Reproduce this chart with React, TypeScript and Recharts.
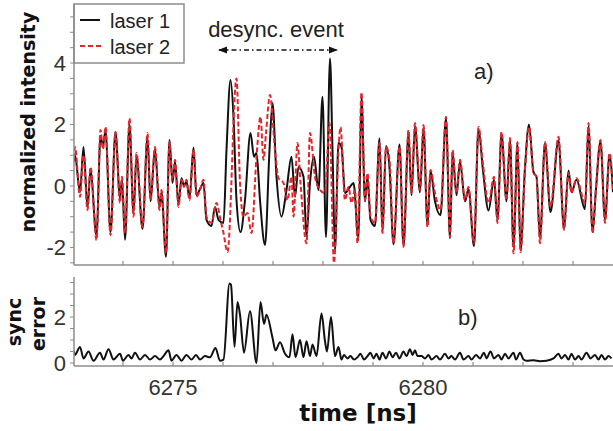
import { LineChart, Line, XAxis, YAxis } from 'recharts';

// laser 2 (red dashed), time in ns / normalized intensity
const laser2Time = [
  6273.02, 6273.04, 6273.14, 6273.21, 6273.29, 6273.35, 6273.47, 6273.55, 6273.6, 6273.65,
  6273.75, 6273.85, 6273.94, 6273.98, 6274.04, 6274.13, 6274.21, 6274.27, 6274.39, 6274.49,
  6274.55, 6274.64, 6274.73, 6274.77, 6274.86, 6274.93, 6274.99, 6275.04, 6275.11, 6275.17,
  6275.22, 6275.27, 6275.33, 6275.41, 6275.47, 6275.54, 6275.61, 6275.67, 6275.77, 6275.87,
  6275.95, 6276.01, 6276.09, 6276.27, 6276.34, 6276.41, 6276.49, 6276.57, 6276.67, 6276.75,
  6276.81, 6276.86, 6276.94, 6277.04, 6277.11, 6277.21, 6277.29, 6277.37, 6277.41, 6277.49,
  6277.55, 6277.67, 6277.74, 6277.84, 6277.94, 6278.04, 6278.13, 6278.22, 6278.31, 6278.35,
  6278.44, 6278.51, 6278.57, 6278.64, 6278.69, 6278.77, 6278.84, 6278.89, 6278.95, 6279.04,
  6279.13, 6279.19, 6279.26, 6279.33, 6279.41, 6279.53, 6279.61, 6279.71, 6279.77, 6279.84,
  6279.94, 6280.01, 6280.09, 6280.15, 6280.24, 6280.35, 6280.46, 6280.54, 6280.59, 6280.67,
  6280.74, 6280.84, 6280.91, 6281.02, 6281.11, 6281.2, 6281.31, 6281.42, 6281.49, 6281.57,
  6281.67, 6281.74, 6281.81, 6281.89, 6281.95, 6282.04, 6282.12, 6282.21, 6282.27, 6282.34,
  6282.44, 6282.55, 6282.71, 6282.82, 6282.91, 6282.97, 6283.07, 6283.24, 6283.31, 6283.39,
  6283.46, 6283.55, 6283.64, 6283.73, 6283.8,
];
const laser2Value = [
  0.9, 1.27, -0.35, 1.0, -0.78, 0.62, -1.76, 1.82, 1.2, 1.92,
  -1.6, 1.76, -0.55, 0.3, -1.53, 2.2, -1.0, 1.07, -1.33, 1.72,
  -0.46, 1.27, -0.78, -0.13, -2.19, 1.43, 0.2, 0.85, -0.68, 0.2,
  -0.03, 0.2, -0.46, 1.17, -0.35, -0.13, 0.2, -1.0, -1.2, -0.55,
  -1.1, -1.53, -2.15, 3.5, 0.1, -1.0, -0.88, -1.53, 0.95, 2.25,
  0.85, 1.72, 2.96, 1.17, 0.25, 0.1, -0.46, 0.3, -1.0, 1.4,
  0.1, -1.86, 1.72, 0.3, -0.13, -0.23, 2.05, -2.5, 1.17, 1.92,
  -0.46, -0.03, -0.55, -0.13, -1.86, 3.05, -0.46, 0.42, -1.0, -1.2,
  1.4, -1.53, 1.27, 0.85, -1.86, 1.27, -1.98, 1.82, -0.23, 2.05,
  -0.13, 1.98, -1.33, 0.52, -0.23, -0.78, 2.25, -1.66, 1.17, -0.23,
  0.85, -0.46, -0.03, -1.86, 1.92, 0.7, -0.55, 0.3, -1.2, 1.76,
  -0.46, 1.56, -2.19, 1.43, -2.15, 0.52, 1.92, 0.42, 0.3, -1.86,
  1.43, -0.68, 1.6, -1.43, 0.42, -0.23, 0.25, -0.55, 2.05, -1.53,
  -0.03, 1.5, -1.2, 1.07, -0.13,
];

// laser 1 (black solid)
const laser1Time = [
  6273.02, 6273.04, 6273.14, 6273.21, 6273.29, 6273.35, 6273.47, 6273.55, 6273.6, 6273.65,
  6273.75, 6273.85, 6273.94, 6273.98, 6274.04, 6274.13, 6274.21, 6274.27, 6274.39, 6274.49,
  6274.55, 6274.64, 6274.73, 6274.77, 6274.86, 6274.93, 6274.99, 6275.04, 6275.11, 6275.17,
  6275.22, 6275.27, 6275.33, 6275.41, 6275.47, 6275.54, 6275.61, 6275.67, 6275.77, 6275.84,
  6275.91, 6276.01, 6276.07, 6276.15, 6276.21, 6276.27, 6276.35, 6276.44, 6276.55, 6276.62,
  6276.67, 6276.74, 6276.84, 6276.93, 6276.99, 6277.07, 6277.17, 6277.27, 6277.37, 6277.44,
  6277.51, 6277.61, 6277.67, 6277.74, 6277.82, 6277.91, 6277.99, 6278.06, 6278.14, 6278.19,
  6278.24, 6278.31, 6278.37, 6278.44, 6278.54, 6278.61, 6278.71, 6278.77, 6278.84, 6278.89,
  6278.95, 6279.04, 6279.13, 6279.19, 6279.26, 6279.33, 6279.41, 6279.53, 6279.61, 6279.71,
  6279.77, 6279.84, 6279.94, 6280.01, 6280.09, 6280.15, 6280.24, 6280.35, 6280.46, 6280.54,
  6280.59, 6280.67, 6280.74, 6280.84, 6280.91, 6281.02, 6281.11, 6281.2, 6281.31, 6281.42,
  6281.49, 6281.57, 6281.67, 6281.74, 6281.81, 6281.89, 6281.95, 6282.04, 6282.12, 6282.21,
  6282.27, 6282.34, 6282.44, 6282.55, 6282.71, 6282.82, 6282.91, 6282.97, 6283.07, 6283.24,
  6283.31, 6283.39, 6283.46, 6283.55, 6283.64, 6283.73, 6283.8,
];
const laser1Value = [
  0.8, 1.0, -0.2, 1.27, -0.7, 0.5, -1.6, 1.6, 1.3, 1.8,
  -1.5, 1.76, -0.4, 0.2, -1.75, 2.0, -0.9, 1.0, -1.4, 1.6,
  -0.5, 1.2, -0.7, -0.2, -2.3, 1.5, 0.1, 0.8, -0.6, 0.25,
  0.0, 0.15, -0.4, 1.25, -0.3, -0.1, 0.1, -1.1, -1.3, -0.68,
  -1.1, -1.2, 1.17, 3.45, 2.25, -0.46, -1.5, -0.46, 1.72, 0.95,
  1.07, -0.46, -1.92, 1.17, 2.7, 0.3, -1.0, -0.13, 0.95, -0.35,
  0.62, 0.3, -1.66, 0.1, 0.95, -0.13, 2.9, -1.66, 4.15, 1.17,
  -2.08, 1.4, 1.27, -0.23, -0.03, 0.1, -1.76, 2.9, -0.5, 0.3,
  -1.1, -1.3, 1.55, -1.5, 1.3, 0.6, -1.9, 1.35, -1.95, 1.7,
  -0.3, 1.95, -0.2, 1.9, -1.3, 0.5, -0.5, -0.95, 2.2, -1.7,
  1.1, -0.3, 0.8, -0.5, -0.1, -1.95, 1.85, 0.5, -0.8, 0.2,
  -1.1, 1.7, -0.5, 1.5, -2.0, 1.4, -2.1, 0.6, 2.0, 0.45,
  0.3, -1.7, 1.4, -0.85, 1.5, -1.4, 0.5, -0.2, 0.2, -0.75,
  1.95, -1.5, -0.1, 1.45, -1.1, 1.0, -0.2,
];

// sync error
const syncTime = [
  6273.02, 6273.04, 6273.14, 6273.21, 6273.31, 6273.41, 6273.54, 6273.61, 6273.71, 6273.81,
  6273.94, 6274.0, 6274.11, 6274.17, 6274.24, 6274.34, 6274.44, 6274.54, 6274.64, 6274.74,
  6274.81, 6274.91, 6274.97, 6275.07, 6275.17, 6275.27, 6275.37, 6275.46, 6275.54, 6275.64,
  6275.74, 6275.85, 6275.94, 6276.01, 6276.13, 6276.16, 6276.23, 6276.29, 6276.34, 6276.42,
  6276.54, 6276.67, 6276.75, 6276.82, 6276.87, 6276.99, 6277.05, 6277.14, 6277.24, 6277.33,
  6277.39, 6277.45, 6277.54, 6277.61, 6277.67, 6277.74, 6277.79, 6277.87, 6277.97, 6278.04,
  6278.08, 6278.16, 6278.24, 6278.31, 6278.37, 6278.42, 6278.49, 6278.55, 6278.62, 6278.69,
  6278.75, 6278.82, 6278.89, 6278.95, 6279.01, 6279.07, 6279.13, 6279.19, 6279.26, 6279.33,
  6279.39, 6279.46, 6279.53, 6279.61, 6279.67, 6279.74, 6279.79, 6279.84, 6279.89, 6279.97,
  6280.04, 6280.11, 6280.17, 6280.27, 6280.34, 6280.44, 6280.51, 6280.57, 6280.64, 6280.74,
  6280.81, 6280.91, 6280.97, 6281.06, 6281.14, 6281.22, 6281.27, 6281.35, 6281.42, 6281.51,
  6281.57, 6281.64, 6281.71, 6281.81, 6281.86, 6281.94, 6282.01, 6282.07, 6282.21, 6282.34,
  6282.47, 6282.61, 6282.71, 6282.77, 6282.84, 6282.91, 6282.97, 6283.04, 6283.11, 6283.17,
  6283.27, 6283.35, 6283.44, 6283.51, 6283.57, 6283.64, 6283.71, 6283.77,
];
const syncValue = [
  0.5, 0.35, 0.7, 0.2, 0.5, 0.1, 0.45, 0.15, 0.6, 0.15,
  0.4, 0.1, 0.35, 0.2, 0.45, 0.15, 0.35, 0.15, 0.3, 0.15,
  0.3, 0.55, 0.1, 0.35, 0.1, 0.35, 0.15, 0.35, 0.15, 0.3,
  0.25, 0.65, 0.1, 0.15, 3.46, 3.4, 0.7, 2.65, 2.1, 0.45,
  2.25, 0.0, 2.65, 1.7, 2.1, 1.1, 0.55, 0.9, 0.4, 0.25,
  1.25, 0.25, 1.0, 0.25, 0.95, 0.3, 0.8, 0.3, 2.15, 0.95,
  0.5, 2.0, 0.3, 0.7, 0.15, 0.35, 0.2, 0.3, 0.15, 0.25,
  0.4, 0.15, 0.3, 0.45, 0.2, 0.4, 0.15, 0.45, 0.2, 0.5,
  0.25, 0.45, 0.2, 0.5, 0.3, 0.6, 0.35, 0.55, 0.3, 0.3,
  0.2, 0.35, 0.15, 0.3, 0.15, 0.4, 0.2, 0.3, 0.15, 0.45,
  0.15, 0.3, 0.15, 0.35, 0.2, 0.45, 0.2, 0.5, 0.2, 0.35,
  0.15, 0.4, 0.2, 0.45, 0.15, 0.45, 0.15, 0.1, 0.12, 0.08,
  0.1, 0.2, 0.4, 0.2, 0.35, 0.15, 0.4, 0.15, 0.3, 0.15,
  0.45, 0.2, 0.35, 0.15, 0.35, 0.15, 0.3, 0.2,
];

const timeTicks = [6274, 6275, 6276, 6277, 6278, 6279, 6280, 6281, 6282, 6283];
const timeLabels = [6275, 6280];
const intensityTicks = [-2.5, -2, -1.5, -1, -0.5, 0, 0.5, 1, 1.5, 2, 2.5, 3, 3.5, 4, 4.5, 5, 5.5];
const intensityLabels = [-2, 0, 2, 4];
const errorTicks = [0, 0.5, 1, 1.5, 2, 2.5, 3, 3.5];
const errorLabels = [0, 2];
const seriesNames = ['laser 1', 'laser 2'];

const timeDomain = [6273.02, 6283.8];
const intensityDomain = [-2.57, 5.92];
const errorDomain = [-0.13, 3.74];

const FRAME = '#8c8c8c';
const RED = '#e3262b';
const TICK_FONT = '"Liberation Sans", Arial, sans-serif';
const TITLE_FONT = '"DejaVu Sans", Verdana, sans-serif';

const laser1Data = laser1Time.map((t, i) => ({ t, v: laser1Value[i] }));
const laser2Data = laser2Time.map((t, i) => ({ t, v: laser2Value[i] }));
const syncData = syncTime.map((t, i) => ({ t, v: syncValue[i] }));

// inward tick marks for the frame, optional label under the bottom axis
const FrameTick = (props: any) => {
  const { x, y, payload, dir, showLabel } = props;
  return (
    <g>
      <line x1={x} x2={x} y1={y} y2={y + dir * 4} stroke={FRAME} strokeWidth={1.2} />
      {showLabel && timeLabels.includes(payload.value) && (
        <text x={x} y={y + 29} textAnchor="middle" fontSize={22} fill="#333" fontFamily={TICK_FONT}>
          {payload.value}
        </text>
      )}
    </g>
  );
};

const yTickStyle = { fontSize: 22, fill: '#333', fontFamily: TICK_FONT };

export default function App() {
  return (
    <div style={{ position: 'absolute', left: 0, top: 0, width: 613, height: 431, background: '#fff' }}>
      <div style={{ position: 'absolute', left: 0, top: 0 }}>
        <LineChart width={613} height={270} margin={{ top: 4, right: 0, bottom: 0, left: 0 }}>
          <XAxis
            xAxisId="top"
            orientation="top"
            type="number"
            dataKey="t"
            domain={timeDomain}
            allowDataOverflow
            ticks={timeTicks}
            interval={0}
            height={0}
            tickSize={0}
            tickMargin={0}
            tickLine={false}
            axisLine={{ stroke: FRAME, strokeWidth: 1.5 }}
            tick={<FrameTick dir={1} />}
          />
          <XAxis
            type="number"
            dataKey="t"
            domain={timeDomain}
            allowDataOverflow
            ticks={timeTicks}
            interval={0}
            height={5}
            tickSize={0}
            tickMargin={0}
            tickLine={false}
            axisLine={{ stroke: FRAME, strokeWidth: 1.5 }}
            tick={<FrameTick dir={-1} />}
          />
          <YAxis
            type="number"
            domain={intensityDomain}
            allowDataOverflow
            ticks={intensityTicks}
            interval={0}
            width={74}
            tickSize={4}
            tickMargin={4}
            tickFormatter={(v: number) => (intensityLabels.includes(v) ? String(v) : '')}
            tick={yTickStyle}
            tickLine={{ stroke: FRAME }}
            axisLine={{ stroke: FRAME, strokeWidth: 1.5 }}
          />
          <Line type="monotone" data={laser1Data} dataKey="v" name={seriesNames[0]} stroke="#111" strokeWidth={2} dot={false} isAnimationActive={false} />
          <Line type="monotone" data={laser2Data} dataKey="v" name={seriesNames[1]} stroke={RED} strokeWidth={2} strokeDasharray="5 2.5" dot={false} isAnimationActive={false} />

          <text x={35} y={122} transform="rotate(-90 35 122)" textAnchor="middle" fontSize={19} fontWeight="bold" fontFamily={TITLE_FONT} fill="#111">
            normalized intensity
          </text>

          <g>
            <rect x={74} y={4} width={110} height={59} fill="#fff" stroke={FRAME} strokeWidth={1.5} />
            <line x1={80} x2={100} y1={20} y2={20} stroke="#111" strokeWidth={2} />
            <line x1={80} x2={101} y1={46} y2={46} stroke={RED} strokeWidth={2} strokeDasharray="5 3" />
            <text x={110} y={28} fontSize={20} fill="#222" fontFamily={TICK_FONT}>{seriesNames[0]}</text>
            <text x={110} y={54} fontSize={20} fill="#222" fontFamily={TICK_FONT}>{seriesNames[1]}</text>
          </g>

          <defs>
            <marker id="arrowHead" viewBox="0 0 10 10" refX="9" refY="5" markerWidth="7" markerHeight="7" orient="auto-start-reverse">
              <path d="M0,1 L10,5 L0,9 z" fill="#111" />
            </marker>
          </defs>
          <text x={276} y={37} textAnchor="middle" fontSize={22} fill="#222" fontFamily={TICK_FONT}>
            desync. event
          </text>
          <line x1={219} x2={337} y1={50} y2={50} stroke="#111" strokeWidth={1.3} strokeDasharray="5 3 1.5 3" markerStart="url(#arrowHead)" markerEnd="url(#arrowHead)" />
          <text x={474} y={79} fontSize={22} fill="#222" fontFamily={TICK_FONT}>a)</text>
        </LineChart>
      </div>

      <div style={{ position: 'absolute', left: 0, top: 270 }}>
        <LineChart width={613} height={161} margin={{ top: 7, right: 0, bottom: 0, left: 0 }}>
          <XAxis
            xAxisId="top"
            orientation="top"
            type="number"
            dataKey="t"
            domain={timeDomain}
            allowDataOverflow
            ticks={timeTicks}
            interval={0}
            height={0}
            tickSize={0}
            tickMargin={0}
            tickLine={false}
            axisLine={{ stroke: FRAME, strokeWidth: 1.5 }}
            tick={<FrameTick dir={1} />}
          />
          <XAxis
            type="number"
            dataKey="t"
            domain={timeDomain}
            allowDataOverflow
            ticks={timeTicks}
            interval={0}
            height={65}
            tickSize={0}
            tickMargin={0}
            tickLine={false}
            axisLine={{ stroke: FRAME, strokeWidth: 1.5 }}
            tick={<FrameTick dir={-1} showLabel />}
          />
          <YAxis
            type="number"
            domain={errorDomain}
            allowDataOverflow
            ticks={errorTicks}
            interval={0}
            width={74}
            tickSize={4}
            tickMargin={4}
            tickFormatter={(v: number) => (errorLabels.includes(v) ? String(v) : '')}
            tick={yTickStyle}
            tickLine={{ stroke: FRAME }}
            axisLine={{ stroke: FRAME, strokeWidth: 1.5 }}
          />
          <Line type="monotone" data={syncData} dataKey="v" name="sync error" stroke="#111" strokeWidth={2} dot={false} isAnimationActive={false} />

          <text x={21} y={52} transform="rotate(-90 21 52)" textAnchor="middle" fontSize={19} fontWeight="bold" fontFamily={TITLE_FONT} fill="#111">
            sync
          </text>
          <text x={45} y={54} transform="rotate(-90 45 54)" textAnchor="middle" fontSize={19} fontWeight="bold" fontFamily={TITLE_FONT} fill="#111">
            error
          </text>
          <text x={358} y={151} textAnchor="middle" fontSize={23} fontWeight="bold" fontFamily={TITLE_FONT} fill="#111">
            time [ns]
          </text>
          <text x={458} y={55} fontSize={22} fill="#222" fontFamily={TICK_FONT}>b)</text>
        </LineChart>
      </div>
    </div>
  );
}
